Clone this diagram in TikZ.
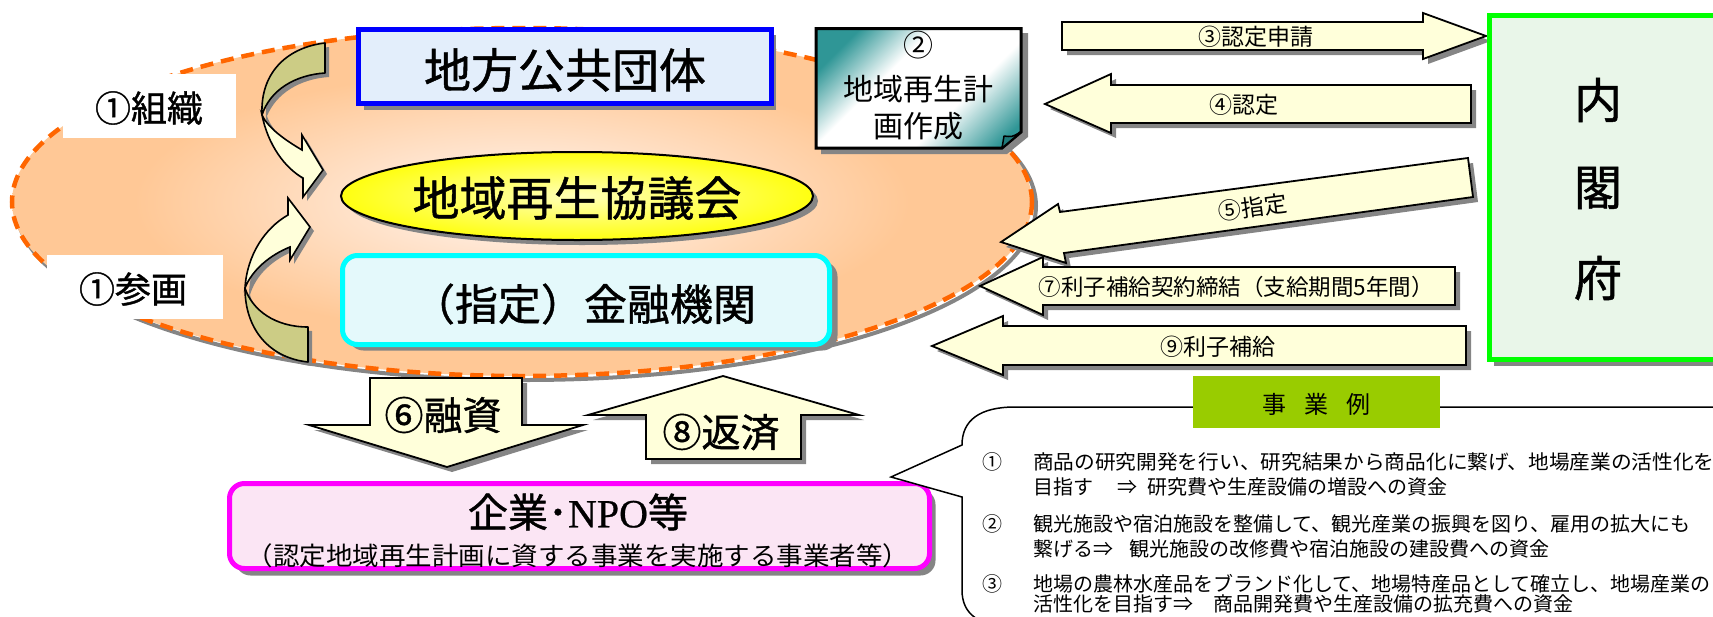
\documentclass[tikz,border=0pt]{standalone}
\usepackage{fontspec}
\setmainfont{Noto Sans CJK JP}
\newfontfamily\jpm{Noto Sans CJK JP}[FakeBold=1.0]
\newfontfamily\npofont{Liberation Serif}[FakeBold=0.6]
\usetikzlibrary{shapes.geometric}
\newcommand{\fsz}[1]{\fontsize{#1}{#1}\selectfont}
\definecolor{shadowc}{HTML}{858585}
\definecolor{peachout}{HTML}{FFC896}
\definecolor{peachin}{HTML}{FFF6F2}
\definecolor{orangec}{HTML}{FF6600}
\definecolor{creamc}{HTML}{FFFFDA}
\definecolor{olivec}{HTML}{CCCC85}
\definecolor{bluefill}{HTML}{E3EEFB}
\definecolor{cyanfill}{HTML}{E4F9FB}
\definecolor{greenfill}{HTML}{E9F6E9}
\definecolor{pinkfill}{HTML}{FBE5F4}
\definecolor{labelc}{HTML}{99CC00}
\definecolor{tealc}{HTML}{2F9696}
\definecolor{tealdark}{HTML}{1F7878}
\definecolor{yellowin}{HTML}{FFFFB8}
\definecolor{yellowout}{HTML}{FFFF10}
\definecolor{blueb}{HTML}{0000FF}
\definecolor{cyanb}{HTML}{00FFFF}
\definecolor{greenb}{HTML}{00FF00}
\definecolor{magb}{HTML}{FF00FF}
\pgfdeclarehorizontalshading{tealfade}{100bp}{color(0bp)=(tealc); color(24bp)=(tealc); color(40bp)=(white); color(62bp)=(white); color(80bp)=(tealc); color(100bp)=(tealc)}
\pgfdeclareradialshading{peachfade}{\pgfpoint{0bp}{0bp}}{color(0bp)=(peachin); color(19bp)=(peachout); color(50bp)=(peachout)}
\begin{document}
\begin{tikzpicture}[x=1pt,y=-1pt,
  lbl/.style={inner sep=0pt, outer sep=0pt},
  barrow/.style={draw=black, line width=1.8pt, fill=creamc, line join=miter},
  shd/.style={fill=shadowc},
  curvo/.style={draw=black, line width=1.6pt, fill=olivec, line join=round},
  curvc/.style={draw=black, line width=1.6pt, fill=creamc, line join=miter},
]
\useasboundingbox (0,0) rectangle (1713,616);
\clip (0,0) rectangle (1713,616);

% ---- big dashed ellipse ----
\draw[shadowc, line width=4pt] (526,206) ellipse [x radius=510, y radius=174];
\shade[shading=peachfade] (522,202) ellipse [x radius=510, y radius=174];
\draw[orangec, line width=4.5pt, dash pattern=on 13pt off 8pt] (522,202) ellipse [x radius=510, y radius=174];

% ---- white label boxes ----
\fill[white] (63,74) rectangle (236,138);
\fill[white] (47,255) rectangle (223,319);

% ---- 地方公共団体 ----
\fill[shd] (364,35) rectangle (776,110);
\draw[blueb, line width=5pt, fill=bluefill] (358.5,29.5) rectangle (771.5,103.5);

% ---- ② box ----
\fill[shd] (821,33) -- (1028,33) -- (1028,137) -- (1007,154) -- (821,154) -- cycle;
\shadedraw[shading=tealfade, shading angle=-45, draw=black, line width=3pt, line join=miter]
  (816,28.5) -- (1021,28.5) -- (1021,132) -- (1002,148) -- (816,148) -- cycle;
\filldraw[fill=tealdark, draw=black, line width=1.5pt, line join=round]
  (1002,148) -- (1004,136) .. controls (1012,137) .. (1021,132) -- cycle;

% ---- curved arrows ----
\begin{scope}[shift={(4,4)}]
\fill[shd] (325,43) .. controls (290,47) and (260,70) .. (262,115) .. controls (268,145) and (285,168) .. (303,178) -- (303,197) -- (323,170) -- (302,135) -- (302,150) .. controls (285,140) and (268,128) .. (263,112) .. controls (272,90) and (295,75) .. (325,73) -- cycle;
\fill[shd] (308,362) .. controls (270,358) and (245,330) .. (245,288) .. controls (247,255) and (265,228) .. (288,215) -- (288,198) -- (310,227) -- (290,260) -- (290,247) .. controls (270,255) and (252,270) .. (246,291) .. controls (252,312) and (275,327) .. (308,327) -- cycle;
\end{scope}
\path[curvo] (325,43) .. controls (290,47) and (260,70) .. (262,115) .. controls (270,90) and (295,75) .. (325,73) -- cycle;
\path[curvc] (262,115) .. controls (268,145) and (285,168) .. (303,178) -- (303,197) -- (323,170) -- (302,135) -- (302,150) .. controls (285,140) and (268,128) .. (262,115) -- cycle;
\path[curvo] (308,362) .. controls (270,358) and (245,330) .. (245,288) .. controls (252,310) and (275,327) .. (308,327) -- cycle;
\path[curvc] (245,288) .. controls (247,255) and (265,228) .. (288,215) -- (288,198) -- (310,227) -- (290,260) -- (290,247) .. controls (270,255) and (252,270) .. (245,288) -- cycle;

% ---- 地域再生協議会 ellipse ----
\fill[shd] (582,201) ellipse [x radius=236, y radius=44];
\shadedraw[inner color=yellowin, outer color=yellowout, draw=black, line width=2pt] (577,196) ellipse [x radius=236, y radius=44];

% ---- 金融機関 ----
\fill[shd, rounded corners=15pt] (348.5,261.5) rectangle (837.5,350.5);
\draw[cyanb, line width=5pt, fill=cyanfill, rounded corners=15pt] (342.5,255.5) rectangle (829.5,344.5);

% ---- right block arrows ----
\begin{scope}[shift={(5,5)}]
\fill[shd] (1062,22) -- (1423,22) -- (1423,13) -- (1486,36) -- (1423,59) -- (1423,50) -- (1062,50) -- cycle;
\fill[shd] (1471,85) -- (1111,85) -- (1111,74) -- (1045,104) -- (1111,133) -- (1111,123) -- (1471,123) -- cycle;
\fill[shd] (1468,158) -- (1060,212) -- (1058,204) -- (1001,242) -- (1066,263) -- (1064,253) -- (1473,197) -- cycle;
\fill[shd] (1455,267) -- (1043,267) -- (1043,257) -- (980,286) -- (1043,315) -- (1043,305) -- (1455,305) -- cycle;
\fill[shd] (1466,326) -- (1003,326) -- (1003,316) -- (932,346) -- (1003,375) -- (1003,365) -- (1466,365) -- cycle;
\end{scope}
\path[barrow] (1062,22) -- (1423,22) -- (1423,13) -- (1486,36) -- (1423,59) -- (1423,50) -- (1062,50) -- cycle;
\path[barrow] (1471,85) -- (1111,85) -- (1111,74) -- (1045,104) -- (1111,133) -- (1111,123) -- (1471,123) -- cycle;
\path[barrow] (1468,158) -- (1060,212) -- (1058,204) -- (1001,242) -- (1066,263) -- (1064,253) -- (1473,197) -- cycle;
\path[barrow] (1455,267) -- (1043,267) -- (1043,257) -- (980,286) -- (1043,315) -- (1043,305) -- (1455,305) -- cycle;
\path[barrow] (1466,326) -- (1003,326) -- (1003,316) -- (932,346) -- (1003,375) -- (1003,365) -- (1466,365) -- cycle;

% ---- 内閣府 ----
\fill[shd] (1494,20) rectangle (1745,366);
\draw[greenb, line width=5pt, fill=greenfill] (1489.5,15.5) rectangle (1740,359.5);

% ---- ⑥ ⑧ arrows ----
\begin{scope}[shift={(5,5)}]
\fill[shd] (370,378) -- (522,378) -- (522,425) -- (583,425) -- (447,467) -- (309,425) -- (370,425) -- cycle;
\fill[shd] (723,376) -- (859,415) -- (801,415) -- (801,459) -- (646,459) -- (646,415) -- (588,415) -- cycle;
\end{scope}
\path[barrow] (370,378) -- (522,378) -- (522,425) -- (583,425) -- (447,467) -- (309,425) -- (370,425) -- cycle;
\path[barrow] (723,376) -- (859,415) -- (801,415) -- (801,459) -- (646,459) -- (646,415) -- (588,415) -- cycle;

% ---- 企業・NPO等 ----
\fill[shd, rounded corners=15pt] (235.5,489.5) rectangle (935.5,575.5);
\draw[magb, line width=5pt, fill=pinkfill, rounded corners=15pt] (229.5,483.5) rectangle (929.5,568.5);

% ---- speech bubble ----
\draw[fill=white, line width=1.5pt, line join=miter]
  (891,477) -- (962,445) .. controls (962,420) and (980,407) .. (1015,407) -- (1760,407)
  -- (1760,626) -- (1010,626) .. controls (980,626) and (962,615) .. (962,590) -- (962,497) -- cycle;
\fill[labelc] (1193,376) rectangle (1440,428);

% ---- texts ----
\node[lbl, font=\jpm\fsz{36}] (soshiki) at (149,108) {①組織};
\node[lbl, font=\jpm\fsz{36}] (sankaku) at (133,289) {①参画};
\node[lbl, font=\jpm\fsz{47}] (chiho) at (565,70) {地方公共団体};
\node[lbl, font=\fsz{30}] (n2a) at (918,45) {②};
\node[lbl, font=\fsz{30}] (n2b) at (918,89) {地域再生計};
\node[lbl, font=\fsz{30}] (n2c) at (918,126) {画作成};
\node[lbl, font=\jpm\fsz{47}] (kyogikai) at (577,198) {地域再生協議会};
\node[lbl, font=\jpm\fsz{43}] (kinyu) at (584,304) {（指定）金融機関};
\node[lbl, font=\fsz{23}] (t3) at (1256,37) {③認定申請};
\node[lbl, font=\fsz{23}] (t4) at (1244,105) {④認定};
\node[lbl, font=\fsz{23}, rotate=7.7] (t5) at (1253,207) {⑤指定};
\node[lbl, font=\fsz{22.5}] (t7) at (1236,287) {⑦利子補給契約締結（支給期間5年間）};
\node[lbl, font=\fsz{23}] (t9) at (1218,347) {⑨利子補給};
\node[lbl, font=\jpm\fsz{48}] (nai) at (1598,100) {内};
\node[lbl, font=\jpm\fsz{48}] (kaku) at (1598,188) {閣};
\node[lbl, font=\jpm\fsz{48}] (fu) at (1598,278) {府};
\node[lbl, font=\jpm\fsz{39}] (t6) at (443,415) {⑥融資};
\node[lbl, font=\jpm\fsz{39}] (t8) at (721,432) {⑧返済};
\node[lbl, font=\jpm\fsz{40}] (kigyo) at (578,512) {企業･{\npofont NPO}等};
\node[lbl, font=\fsz{25.5}] (kigyo2) at (578,556) {\scalebox{1.04}[1]{（認定地域再生計画に資する事業を実施する事業者等）}};
\node[lbl, font=\fsz{24}] (jigyorei) at (1316,404) {事\hspace{0.75em}業\hspace{0.75em}例};

\node[lbl, font=\fsz{20}] (b1) at (992,462) {①};
\node[lbl, font=\fsz{20}] (b2) at (992,524) {②};
\node[lbl, font=\fsz{20}] (b3) at (992,584) {③};
\node[lbl, font=\fsz{20}, anchor=west] (l1) at (1033,462) {\scalebox{1.035}[1]{商品の研究開発を行い、研究結果から商品化に繋げ、地場産業の活性化を}};
\node[lbl, font=\fsz{20}, anchor=west] (l2) at (1033,487) {目指す\hspace{24pt}⇒\hspace{10pt}研究費や生産設備の増設への資金};
\node[lbl, font=\fsz{20}, anchor=west] (l3) at (1033,524) {観光施設や宿泊施設を整備して、観光産業の振興を図り、雇用の拡大にも};
\node[lbl, font=\fsz{20}, anchor=west] (l4) at (1033,549) {繋げる⇒\hspace{16pt}観光施設の改修費や宿泊施設の建設費への資金};
\node[lbl, font=\fsz{20}, anchor=west] (l5) at (1033,584) {地場の農林水産品をブランド化して、地場特産品として確立し、地場産業の};
\node[lbl, font=\fsz{20}, anchor=west] (l6) at (1033,604) {活性化を目指す⇒\hspace{20pt}商品開発費や生産設備の拡充費への資金};
\end{tikzpicture}
\end{document}
